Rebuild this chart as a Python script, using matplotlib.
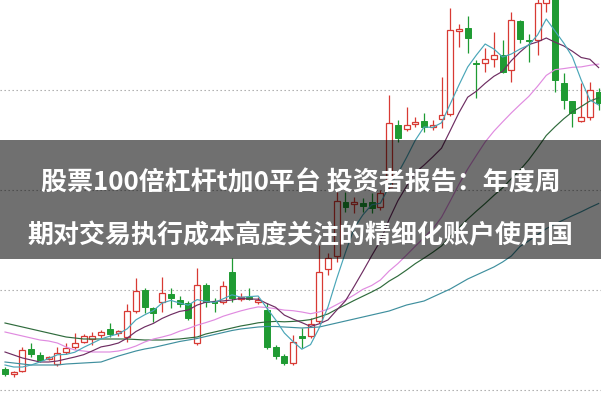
import numpy as np
import matplotlib
matplotlib.use("Agg")
import matplotlib.pyplot as plt
from matplotlib.patches import Rectangle

# daily candles (price units)
opens = [12.1, 11.6, 11.9, 14.1, 13.5, 13.1, 12.6, 13.8, 14.3, 14.8,
         15.1, 15.5, 16.1, 15.7, 15.3, 17.9, 20.0, 18.2, 18.8, 19.6,
         19.0, 18.7, 14.7, 20.5, 18.9, 18.8, 21.8, 19.1, 19.3, 18.8,
         18.0, 14.3, 13.4, 12.7, 15.4, 15.4, 16.9, 22.1, 23.4, 28.8,
         28.6, 28.7, 28.8, 28.3, 30.3, 36.5, 36.1, 36.6, 36.9, 36.3,
         37.1, 37.6, 45.9, 46.2, 42.7, 42.7, 43.1, 43.5, 42.0, 46.9,
         45.0, 45.0, 48.7, 49.5, 40.7, 38.9, 36.9, 37.3, 39.8]
highs = [12.3, 11.9, 14.3, 14.7, 13.8, 13.4, 14.3, 14.7, 15.7, 15.6,
         15.8, 16.0, 16.7, 16.0, 18.6, 21.2, 20.2, 18.3, 21.3, 20.2,
         19.4, 18.9, 22.2, 20.7, 19.2, 20.9, 23.2, 19.7, 20.2, 19.3,
         18.7, 14.5, 13.6, 15.5, 16.2, 17.2, 24.5, 23.7, 29.8, 29.8,
         29.3, 29.2, 29.7, 30.0, 39.5, 37.0, 38.3, 37.3, 37.7, 37.0,
         41.3, 48.2, 46.6, 47.4, 43.0, 44.2, 45.8, 45.0, 47.8, 47.0,
         45.6, 49.3, 51.0, 50.5, 41.7, 38.9, 40.7, 40.8, 40.2]
lows = [11.4, 11.3, 11.8, 13.3, 12.8, 13.0, 12.4, 13.6, 14.1, 14.7,
        14.5, 15.2, 15.3, 15.4, 14.8, 17.7, 17.7, 16.8, 17.8, 18.2,
        18.3, 17.0, 14.5, 18.3, 17.8, 18.6, 18.8, 18.9, 19.0, 18.6,
        14.1, 13.1, 12.5, 12.5, 14.2, 15.2, 16.7, 21.5, 22.8, 27.8,
        27.7, 27.8, 27.7, 28.0, 30.0, 34.8, 35.9, 36.3, 35.8, 36.0,
        36.2, 37.4, 44.3, 43.7, 39.2, 41.8, 42.3, 41.7, 40.8, 44.7,
        42.8, 43.5, 47.8, 39.8, 38.1, 36.3, 36.8, 37.0, 38.0]
closes = [11.6, 11.8, 14.0, 13.6, 13.0, 13.3, 13.7, 14.2, 14.7, 15.4,
          15.4, 15.8, 15.6, 15.9, 17.9, 19.9, 18.3, 17.7, 19.7, 19.2,
          18.6, 17.2, 20.5, 18.8, 18.7, 20.4, 19.2, 19.3, 19.1, 19.0,
          14.3, 13.4, 12.7, 14.8, 15.2, 16.6, 21.8, 23.2, 28.9, 28.3,
          28.8, 28.4, 28.2, 29.7, 36.7, 35.2, 36.5, 36.8, 36.3, 36.5,
          37.5, 46.0, 46.1, 45.2, 42.6, 43.1, 43.5, 41.8, 47.0, 45.1,
          44.9, 48.7, 50.0, 41.0, 39.0, 37.7, 37.3, 40.0, 38.7]

# moving average lines
ma5 = [12.5, 12.3, 12.3, 12.5, 12.8, 13.14, 13.52, 13.56, 13.78, 14.26,
       14.68, 15.1, 15.38, 15.62, 16.12, 17.02, 17.52, 17.94, 18.7, 18.96,
       18.7, 18.48, 19.04, 18.86, 18.76, 19.12, 19.52, 19.28, 19.34, 19.4,
       18.18, 17.02, 15.7, 14.84, 14.08, 14.54, 16.22, 18.32, 21.14, 23.76,
       26.2, 27.52, 28.52, 28.68, 30.36, 31.64, 33.26, 34.98, 36.3, 36.26,
       36.72, 38.6, 40.5, 42.3, 43.5, 44.6, 44.1, 43.3, 43.6, 44.1,
       44.5, 45.5, 47.1, 45.9, 44.7, 43.3, 41.0, 39.0, 38.5]
ma10 = [13.8, 13.5, 13.2, 13.0, 12.8, 12.8, 12.9, 13.1, 13.3, 13.53,
        13.91, 14.31, 14.47, 14.7, 15.19, 15.85, 16.31, 16.66, 17.16, 17.54,
        17.86, 18.0, 18.49, 18.78, 18.86, 18.91, 19.0, 19.16, 19.1, 19.08,
        18.65, 18.27, 17.49, 17.09, 16.74, 16.36, 16.62, 17.01, 17.99, 18.92,
        20.37, 21.87, 23.42, 24.91, 27.06, 28.92, 30.39, 31.75, 32.49, 33.31,
        34.18, 35.94, 37.73, 39.28, 39.88, 40.67, 41.37, 41.87, 42.94, 43.8,
        44.54, 44.81, 45.2, 44.78, 44.41, 43.87, 43.25, 43.07, 42.24]
ma20 = [15.8, 15.6, 15.4, 15.2, 15.0, 14.9, 14.7, 14.3, 14.0, 13.9,
        13.8, 13.8, 13.8, 13.9, 14.1, 14.4, 14.8, 15.1, 15.3, 15.53,
        15.88, 16.15, 16.48, 16.74, 17.02, 17.38, 17.65, 17.91, 18.13, 18.31,
        18.25, 18.13, 17.99, 17.93, 17.8, 17.63, 17.81, 18.08, 18.54, 19.0,
        19.51, 20.07, 20.45, 21.0, 21.9, 22.64, 23.5, 24.38, 25.24, 26.11,
        27.27, 28.9, 30.57, 32.1, 33.47, 34.8, 35.88, 36.81, 37.71, 38.55,
        39.36, 40.37, 41.46, 42.03, 42.14, 42.27, 42.31, 42.47, 42.59]
ma30 = [16.7, 16.5, 16.3, 16.1, 15.9, 15.7, 15.5, 15.3, 15.2, 15.1,
        15.1, 15.1, 15.1, 15.1, 15.1, 15.05, 15.0, 15.0, 15.0, 15.05,
        15.1, 15.2, 15.3, 15.6, 15.8, 16.0, 16.2, 16.4, 16.55, 16.72,
        16.81, 16.86, 16.82, 16.86, 16.93, 17.04, 17.31, 17.61, 18.08, 18.51,
        18.96, 19.38, 19.8, 20.26, 20.89, 21.4, 22.0, 22.64, 23.19, 23.77,
        24.4, 25.36, 26.21, 27.09, 27.89, 28.65, 29.46, 30.21, 31.14, 32.01,
        33.03, 34.21, 35.45, 36.32, 37.12, 37.82, 38.34, 38.9, 39.22]
ma60 = [12.8, 12.7, 12.6, 12.5, 12.5, 12.5, 12.5, 12.6, 12.65, 12.7,
        12.75, 12.8, 13.1, 13.4, 13.65, 13.9, 14.1, 14.25, 14.45, 14.65,
        14.85, 15.0, 15.15, 15.35, 15.55, 15.75, 15.95, 16.1, 16.2, 16.3,
        16.35, 16.35, 16.3, 16.25, 16.2, 16.25, 16.3, 16.5, 16.7, 16.9,
        17.1, 17.3, 17.5, 17.7, 17.9, 18.2, 18.5, 18.7, 18.9, 19.3,
        19.7, 20.1, 20.6, 21.1, 21.5, 21.9, 22.3, 22.8, 23.4, 24.36,
        24.92, 25.53, 26.13, 26.59, 27.02, 27.43, 27.82, 28.25, 28.65]

grid_levels = [10, 20, 30, 40]

title_lines = ["股票100倍杠杆t加0平台 投资者报告：年度周",
               "期对交易执行成本高度关注的精细化账户使用国"]

RED = "#d83a34"
GREEN = "#1f9b33"

fig = plt.figure(figsize=(6.01, 4.01), dpi=100)
ax = fig.add_axes([0, 0, 1, 1])
ax.set_xlim(-0.573, 68.27)
ax.set_ylim(8.9, 49)
ax.axis("off")

for g in grid_levels:
    ax.axhline(g, color="#a3a3a3", lw=0.8, ls=(0, (1.2, 2.4)), zorder=0)

x = np.arange(len(opens))
o = np.array(opens)
c = np.array(closes)
up = c >= o
cols = np.where(up, RED, GREEN)

# wicks first, bodies on top
ax.vlines(x, lows, highs, colors=cols, lw=0.9, zorder=2)
bottom = np.minimum(o, c)
height = np.maximum(np.abs(c - o), 0.12)
ax.bar(x[up], height[up], bottom=bottom[up], width=0.68,
       facecolor="white", edgecolor=RED, lw=0.9, zorder=3)
ax.bar(x[~up], height[~up], bottom=bottom[~up], width=0.68,
       facecolor=GREEN, edgecolor=GREEN, lw=0.7, zorder=3)

ax.plot(x, ma60, color="#3f8f9e", lw=0.85, zorder=4)
ax.plot(x, ma30, color="#2f6b3c", lw=0.85, zorder=4)
ax.plot(x, ma20, color="#e08be0", lw=0.85, zorder=4)
ax.plot(x, ma10, color="#6e2d62", lw=0.85, zorder=4)
ax.plot(x, ma5, color="#4aa6b8", lw=0.85, zorder=4)

# translucent banner with the headline
fig.add_artist(Rectangle((0, 1 - 259 / 401), 1, 119 / 401,
                         transform=fig.transFigure, facecolor="black",
                         alpha=0.56, edgecolor="none", zorder=10))
for yy, line in zip([183, 236], title_lines):
    fig.text(0.5, 1 - yy / 401, line, ha="center", va="center",
             fontsize=18.7, color="white", fontweight="bold",
             family=["Noto Sans CJK SC", "DejaVu Sans"], zorder=11)

fig.savefig("out.png", dpi=100)
